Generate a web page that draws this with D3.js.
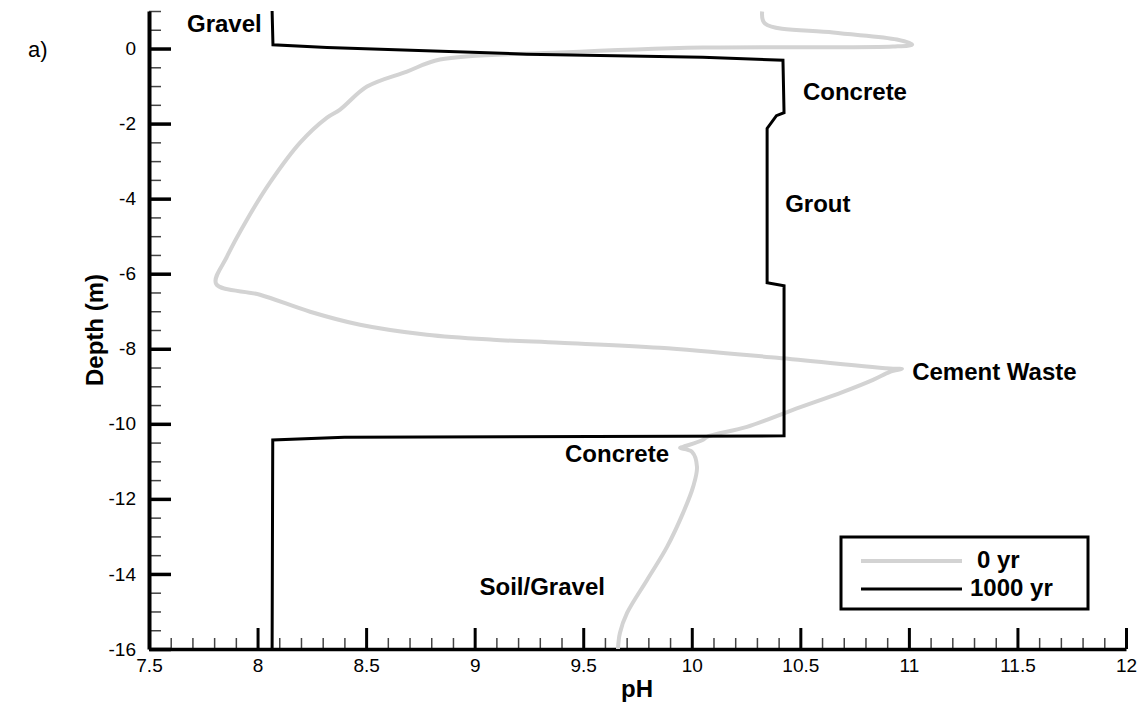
<!DOCTYPE html>
<html>
<head>
<meta charset="utf-8">
<script src="https://cdn.jsdelivr.net/npm/d3@7"></script>
<style>
  body { margin: 0; background: #fff; }
  text { font-family: Arial, 'Liberation Sans', sans-serif; }
</style>
</head>
<body>
<div id="phChart"></div>
<script>
// pH (x) vs depth (y), 0 yr curve
var ph0 = [10.324, 10.337, 10.651, 10.945, 11.015, 10.927, 10.052, 9.393, 8.84, 8.688, 8.504, 8.38, 8.32, 8.196, 8.057, 7.951, 7.859, 7.809,
  8.011, 8.242, 8.472, 8.78, 9.085, 9.393, 9.854, 10.393, 10.927, 10.968, 10.913, 10.835, 10.697, 10.466, 10.254, 10.07, 10.052, 9.96, 9.946,
  10.001, 10.024, 10.006, 9.96, 9.886, 9.794, 9.702, 9.669, 9.66];
var depth0 = [0.987, 0.667, 0.427, 0.24, 0.107, 0.053, 0.027, -0.107, -0.293, -0.613, -1.013, -1.627, -1.84, -2.507, -3.573, -4.56, -5.547, -6.267,
  -6.56, -7.013, -7.36, -7.627, -7.76, -7.84, -7.973, -8.24, -8.533, -8.533, -8.613, -8.827, -9.147, -9.627, -10.08, -10.347, -10.427, -10.613, -10.64,
  -10.747, -11.147, -11.68, -12.373, -13.28, -14.16, -15.04, -15.573, -16];

// 1000 yr curve
var ph1000 = [8.067, 8.071, 8.32, 9.24, 10.05, 10.42, 10.425, 10.39, 10.347, 10.347, 10.425, 10.425, 8.4, 8.07, 8.067];
var depth1000 = [1.0, 0.1, 0.03, -0.15, -0.23, -0.31, -1.71, -1.79, -2.13, -6.24, -6.32, -10.32, -10.36, -10.43, -16];

// tick values
var xMajor = [7.5, 8, 8.5, 9, 9.5, 10, 10.5, 11, 11.5, 12];
var xLabels = ['7.5', '8', '8.5', '9', '9.5', '10', '10.5', '11', '11.5', '12'];
var yMajor = [0, -2, -4, -6, -8, -10, -12, -14, -16];
var yLabels = ['0', '-2', '-4', '-6', '-8', '-10', '-12', '-14', '-16'];

// layer labels
var layerNames = ['Gravel', 'Concrete', 'Grout', 'Cement Waste', 'Concrete', 'Soil/Gravel'];
var layerPh = [7.675, 10.512, 10.43, 11.015, 9.416, 9.6];
var layerDepth = [0.453, -1.36, -4.35, -8.83, -11.01, -14.56];
var layerAnchor = ['start', 'start', 'start', 'start', 'start', 'end'];

var seriesNames = ['0 yr', '1000 yr'];
var seriesColors = ['#d3d3d3', '#000000'];

width = 1138;
height = 717;

var svg = d3
  .select('#phChart')
  .append('svg')
  .attr('width', width)
  .attr('height', height);

x = d3.scaleLinear().domain([7.5, 12]).range([149, 1126]);
y = d3.scaleLinear().domain([-16, 1]).range([649, 11]);

// minor ticks
var xMinor = d3.range(75, 121).map((d) => d / 10).filter((d) => Math.abs(d * 2 - Math.round(d * 2)) > 1e-6);
var yMinor = d3.range(-32, 3).map((d) => d / 2).filter((d) => d % 2 !== 0);

svg
  .append('g')
  .attr('transform', `translate(0,${y(-16)})`)
  .call(d3.axisBottom(x).tickValues(xMinor).tickSize(-11).tickFormat(''))
  .call((g) => g.select('.domain').remove())
  .call((g) => g.selectAll('.tick line').attr('stroke', '#444').attr('stroke-width', 1.5));

svg
  .append('g')
  .attr('transform', `translate(${x(7.5)},0)`)
  .call(d3.axisLeft(y).tickValues(yMinor).tickSize(-12).tickFormat(''))
  .call((g) => g.select('.domain').remove())
  .call((g) => g.selectAll('.tick line').attr('stroke', '#444').attr('stroke-width', 1.5));

// x axis
svg
  .append('g')
  .attr('transform', `translate(0,${y(-16)})`)
  .call(d3.axisBottom(x).tickValues(xMajor).tickSize(-21).tickSizeOuter(0).tickPadding(10).tickFormat((d, i) => xLabels[i]))
  .call((g) => g.select('.domain').attr('stroke-width', 3.5))
  .call((g) => g.selectAll('.tick line').attr('stroke-width', 3))
  .call((g) => g.selectAll('.tick text').attr('font-size', 19).attr('fill', '#000'));

// y axis
svg
  .append('g')
  .attr('transform', `translate(${x(7.5)},0)`)
  .call(d3.axisLeft(y).tickValues(yMajor).tickSize(-22).tickSizeOuter(0).tickPadding(13).tickFormat((d, i) => yLabels[i]))
  .call((g) => g.select('.domain').attr('stroke-width', 4))
  .call((g) => g.selectAll('.tick line').attr('stroke-width', 3.5))
  .call((g) => g.selectAll('.tick text').attr('font-size', 19).attr('fill', '#000'));

// curves
var line = d3
  .line()
  .x((d) => x(d[0]))
  .y((d) => y(d[1]));

svg
  .append('path')
  .datum(ph0.map((d, i) => [d, depth0[i]]))
  .attr('d', line.curve(d3.curveCatmullRom.alpha(0.5)))
  .attr('fill', 'none')
  .attr('stroke', seriesColors[0])
  .attr('stroke-width', 4)
  .attr('stroke-linejoin', 'round');

svg
  .append('path')
  .datum(ph1000.map((d, i) => [d, depth1000[i]]))
  .attr('d', line.curve(d3.curveLinear))
  .attr('fill', 'none')
  .attr('stroke', seriesColors[1])
  .attr('stroke-width', 3);

// layer names
svg
  .selectAll('.layer')
  .data(layerNames)
  .enter()
  .append('text')
  .attr('class', 'layer')
  .attr('x', (d, i) => x(layerPh[i]))
  .attr('y', (d, i) => y(layerDepth[i]))
  .attr('text-anchor', (d, i) => layerAnchor[i])
  .attr('font-size', 24)
  .attr('font-weight', 'bold')
  .text((d) => d);

// axis titles
svg
  .append('text')
  .attr('x', 637)
  .attr('y', 697)
  .attr('text-anchor', 'middle')
  .attr('font-size', 24)
  .attr('font-weight', 'bold')
  .text('pH');

svg
  .append('text')
  .attr('transform', 'translate(103,330) rotate(-90)')
  .attr('text-anchor', 'middle')
  .attr('font-size', 24)
  .attr('font-weight', 'bold')
  .text('Depth (m)');

svg
  .append('text')
  .attr('x', 28)
  .attr('y', 57)
  .attr('font-family', "'Times New Roman', 'Liberation Serif', serif")
  .attr('font-size', 22)
  .text('a)');

// legend
var legend = svg.append('g');
legend
  .append('rect')
  .attr('x', 841)
  .attr('y', 537)
  .attr('width', 247)
  .attr('height', 72)
  .attr('fill', '#fff')
  .attr('stroke', '#000')
  .attr('stroke-width', 3);

var items = legend
  .selectAll('.item')
  .data(seriesNames)
  .enter()
  .append('g')
  .attr('class', 'item')
  .attr('transform', (d, i) => `translate(0,${561 + i * 28})`);

items
  .append('line')
  .attr('x1', 861)
  .attr('x2', 962)
  .attr('stroke', (d, i) => seriesColors[i])
  .attr('stroke-width', (d, i) => (i === 0 ? 4 : 3));

items
  .append('text')
  .attr('x', (d, i) => (i === 0 ? 977 : 970))
  .attr('y', 7)
  .attr('font-size', 24)
  .attr('font-weight', 'bold')
  .text((d) => d);
</script>
</body>
</html>
